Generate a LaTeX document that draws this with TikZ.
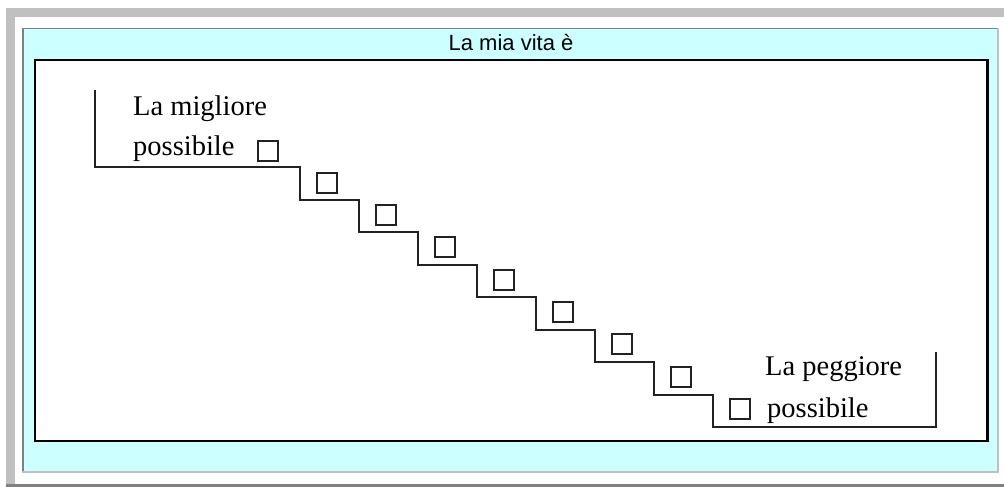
\documentclass[tikz,border=0pt]{standalone}
\usepackage{fontspec}
\setmainfont{Liberation Serif}
\newfontfamily\titlefont{Liberation Sans}
\usepackage{tikz}
\usetikzlibrary{positioning}

\definecolor{panelcyan}{HTML}{CCFFFF}
\definecolor{lightframe}{HTML}{C0C0C0}
\definecolor{darkframe}{HTML}{808080}
\definecolor{ink}{HTML}{222222}

\begin{document}
\begin{tikzpicture}[x=1pt,y=-1pt, every node/.style={inner sep=0pt},
  tickbox/.style={draw=ink,line width=2pt,minimum size=20pt},
  label/.style={anchor=base west,font=\fontsize{28.5}{40}\selectfont}]
\useasboundingbox (0,0) rectangle (1004,487);
\fill[white] (0,0) rectangle (1004,487);
% outer frame
\fill[lightframe] (6,8) rectangle (1004,17);
\fill[lightframe] (6,8) rectangle (15,485);
\fill[darkframe] (6,484) rectangle (1004,486.5);
% cyan panel
\fill[panelcyan] (22,28) rectangle (999,473);
\fill[darkframe] (22,28) rectangle (24,473);
\fill[darkframe] (22,28) rectangle (999,29.5);
\fill[lightframe] (22,471) rectangle (999,473);
\fill[lightframe] (997,28) rectangle (999,473);
\node[anchor=base,font=\titlefont\fontsize{22}{26}\selectfont] (title) at (511,51) {La mia vita è};
% white box
\draw[line width=2.2pt,fill=white] (35,60) rectangle (987.5,441);
% stairs
\draw[ink,line width=2pt] (95,90) -- (95,167)
  \foreach \k in {0,...,7} { -- ({300+59*\k},{167+32.5*\k}) -- ({300+59*\k},{167+32.5*(\k+1)}) }
  -- (936,427) -- (936,352);
\foreach \k in {0,...,8}
  \node[tickbox] (sq\k) at ({267.5+59*\k},{150.5+32.3*\k}) {};
\node[label] (best1) at (133,115) {La migliore};
\node[label] (best2) at (133,155) {possibile};
\node[label] (worst1) at (765,375) {La peggiore};
\node[label] (worst2) at (767,417) {possibile};
\end{tikzpicture}
\end{document}
